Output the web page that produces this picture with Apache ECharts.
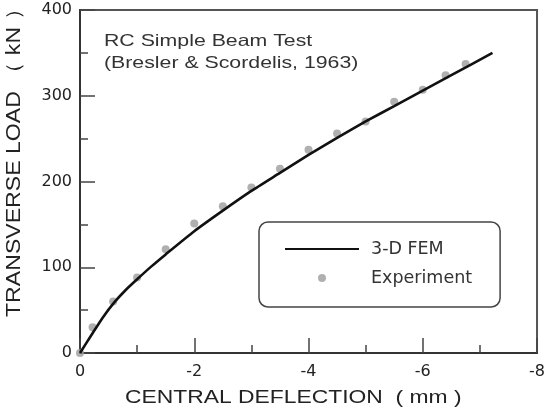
<!DOCTYPE html>
<html>
<head>
<meta charset="utf-8">
<script src="https://cdn.jsdelivr.net/npm/echarts@6/dist/echarts.min.js"></script>
<style>
  html, body { margin: 0; padding: 0; background: #fff; }
  #chart { width: 548px; height: 411px; }
</style>
</head>
<body>
<div id="chart"></div>
<script>
// FEM curve (3-D FEM)
const femDeflection = [0, -0.2, -0.4, -0.6, -0.8, -1.0, -1.25, -1.5, -2.0, -2.5, -3.0, -3.5, -4.0, -4.5, -5.0, -5.5, -6.0, -6.5, -7.22];
const femLoad       = [0, 21, 41.5, 59, 73.5, 86, 101, 115, 142, 166, 189, 210, 231, 251, 270, 288, 306, 324, 350];
// Experiment points
const expDeflection = [0, -0.22, -0.58, -1.0, -1.5, -2.0, -2.5, -3.0, -3.5, -4.0, -4.5, -5.0, -5.5, -6.0, -6.4, -6.75];
const expLoad       = [0, 30, 60, 88, 121, 151, 171, 193, 215, 237, 256, 270, 293, 307, 324, 337];
// Texts
const seriesNames = ['3-D FEM', 'Experiment'];
const noteLines = ['RC Simple Beam Test', '(Bresler & Scordelis, 1963)'];
const xTitle = 'CENTRAL DEFLECTION  ( mm )';
const yTitle = 'TRANSVERSE LOAD （ kN ）';

const chart = echarts.init(document.getElementById('chart'), null, { renderer: 'canvas' });
const femData = femDeflection.map((x, i) => [x, femLoad[i]]);
const expData = expDeflection.map((x, i) => [x, expLoad[i]]);

const tickColor = '#444';
chart.setOption({
  animation: false,
  backgroundColor: '#fff',
  grid: { left: 80, right: 5, top: 10, bottom: 58, show: true, borderColor: '#555', borderWidth: 2, backgroundColor: 'transparent' },
  xAxis: {
    type: 'value', min: -8, max: 0, interval: 2, inverse: true,
    axisLine: { onZero: false, lineStyle: { color: '#333', width: 2 } },
    axisTick: { inside: true, length: 15, lineStyle: { color: tickColor, width: 1.5 } },
    minorTick: { show: true, splitNumber: 2, length: 8, lineStyle: { color: tickColor, width: 1.5 } },
    splitLine: { show: false },
    axisLabel: { margin: 11, fontFamily: 'DejaVu Sans', fontSize: 16, color: '#222' }
  },
  yAxis: {
    type: 'value', min: 0, max: 400, interval: 100,
    axisLine: { onZero: false, lineStyle: { color: '#333', width: 2 } },
    axisTick: { inside: true, length: 15, lineStyle: { color: tickColor, width: 1.5 } },
    minorTick: { show: true, splitNumber: 2, length: 8, lineStyle: { color: tickColor, width: 1.5 } },
    splitLine: { show: false },
    axisLabel: { margin: 8, fontFamily: 'DejaVu Sans', fontSize: 16, color: '#222' }
  },
  legend: {
    data: [{ name: seriesNames[0], itemStyle: { opacity: 0 } }, { name: seriesNames[1] }],
    orient: 'vertical',
    left: 259, top: 222,
    itemWidth: 74, itemHeight: 8, itemGap: 11,
    padding: [18, 28, 20, 25],
    borderColor: '#444', borderWidth: 1.5, borderRadius: 9,
    backgroundColor: '#fff',
    textStyle: { fontFamily: 'DejaVu Sans', fontSize: 17.5, color: '#333', padding: [0, 0, 0, 7] }
  },
  series: [
    {
      name: seriesNames[0], type: 'line', data: femData,
      symbol: 'none', smooth: 0.2,
      lineStyle: { color: '#111', width: 2.6 }, itemStyle: { color: '#111' }, z: 3
    },
    {
      name: seriesNames[1], type: 'scatter', data: expData,
      symbol: 'circle', symbolSize: 8,
      itemStyle: { color: '#9c9c9c' }, z: 2
    }
  ],
  graphic: [
    { type: 'text', x: 104, y: 41, scaleX: 1.29, z: 10,
      style: { text: noteLines[0], fontFamily: 'Liberation Sans', fontSize: 16.5, fill: '#333', align: 'left', verticalAlign: 'middle' } },
    { type: 'text', x: 104, y: 63.5, scaleX: 1.29, z: 10,
      style: { text: noteLines[1], fontFamily: 'Liberation Sans', fontSize: 16.5, fill: '#333', align: 'left', verticalAlign: 'middle' } },
    { type: 'text', x: 125, y: 398, scaleX: 1.27, z: 10,
      style: { text: xTitle, fontFamily: 'Liberation Sans', fontSize: 18, fill: '#222', align: 'left', verticalAlign: 'middle' } },
    { type: 'text', x: 14, y: 317, rotation: Math.PI / 2, scaleX: 1.155, z: 10,
      style: { text: yTitle, fontFamily: 'Liberation Sans', fontSize: 20, fill: '#222', align: 'left', verticalAlign: 'middle' } }
  ]
});
</script>
</body>
</html>
